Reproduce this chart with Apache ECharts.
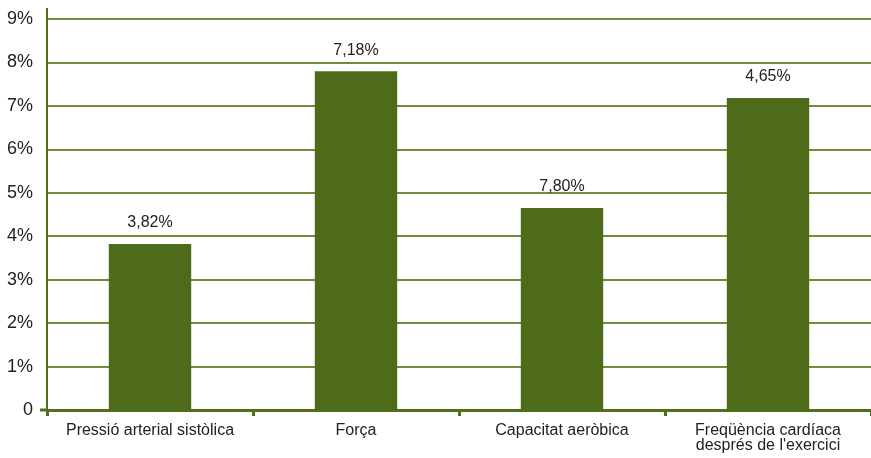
<!DOCTYPE html>
<html><head><meta charset="utf-8">
<script src="https://cdn.jsdelivr.net/npm/echarts@6/dist/echarts.min.js"></script>
<style>html,body{margin:0;padding:0;background:#fff}#c{width:871px;height:458px}</style>
</head><body><div id="c"></div>
<script>
const categories = ["Pressió arterial sistòlica", "Força", "Capacitat aeròbica", "Freqüència cardíaca\ndesprés de l'exercici"];
const values = [3.82, 7.80, 4.65, 7.18];
const valueLabels = ["3,82%", "7,18%", "7,80%", "4,65%"];
const yTicks = [0, 1, 2, 3, 4, 5, 6, 7, 8, 9];

const FONT = "Liberation Sans";
const chart = echarts.init(document.getElementById('c'));
chart.setOption({
  animation: false,
  grid: {left: 47, right: 0, top: 19, bottom: 48},
  xAxis: {
    type: 'category', data: categories,
    axisLine: {lineStyle: {color: '#4f6f1d', width: 3}},
    axisTick: {show: true, length: 6, lineStyle: {color: '#4f6f1d', width: 3}},
    axisLabel: {color: '#222', fontFamily: FONT, fontSize: 16, margin: 13, lineHeight: 15, interval: 0}
  },
  yAxis: {
    type: 'value', min: yTicks[0], max: yTicks[yTicks.length - 1], interval: 1,
    axisLine: {show: true, lineStyle: {color: '#4f6f1d', width: 2}},
    axisTick: {show: false},
    splitLine: {lineStyle: {color: '#6d8d3c', width: 2}},
    axisLabel: {color: '#222', fontFamily: FONT, fontSize: 18, margin: 14,
      formatter: v => v === 0 ? '0' : v + '%'}
  },
  series: [{
    type: 'bar', data: values, barWidth: '40%',
    itemStyle: {color: '#4e6b1a'},
    label: {show: true, position: 'top', distance: 13, color: '#222', fontFamily: FONT, fontSize: 16,
      formatter: p => valueLabels[p.dataIndex]}
  }]
});
const p0 = chart.convertToPixel({xAxisIndex: 0, yAxisIndex: 0}, [0, 0]);
const pTop = chart.convertToPixel({xAxisIndex: 0, yAxisIndex: 0}, [0, yTicks[yTicks.length - 1]]);
const x0 = 47;
chart.setOption({
  graphic: [
    {type: 'line', shape: {x1: x0, y1: pTop[1] - 11, x2: x0, y2: p0[1] + 5}, style: {stroke: '#4f6f1d', lineWidth: 2}, z: 10},
    {type: 'line', shape: {x1: 40, y1: p0[1], x2: x0, y2: p0[1]}, style: {stroke: '#4f6f1d', lineWidth: 3}, z: 10}
  ]
});
</script></body></html>
